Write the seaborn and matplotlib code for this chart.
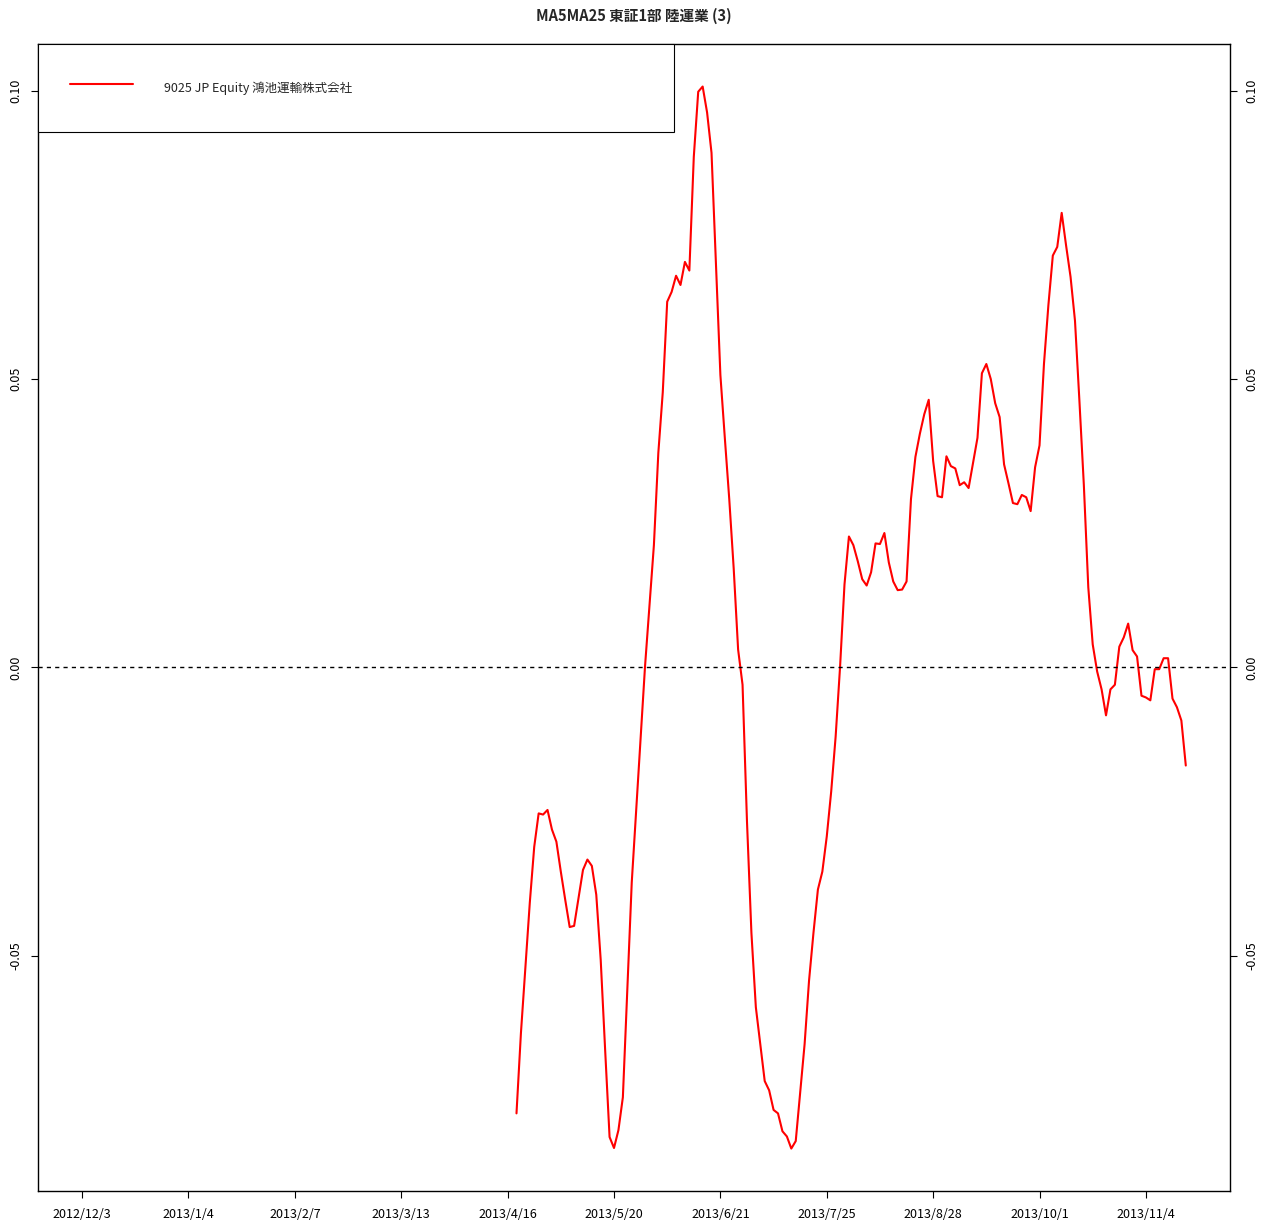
import numpy as np
import pandas as pd
import seaborn as sns
import matplotlib.pyplot as plt

# dados (MA5/MA25 - 1, por dia util)
titulo = "MA5MA25 東証1部 陸運業 (3)"
legenda = "9025 JP Equity 鴻池運輸株式会社"
n_dias = 250        # dias uteis a partir de 2012/12/3
inicio = 99         # primeiro dia com valor
passo_ticks = 24
rotulos_x = ["2012/12/3", "2013/1/4", "2013/2/7", "2013/3/13", "2013/4/16",
             "2013/5/20", "2013/6/21", "2013/7/25", "2013/8/28", "2013/10/1",
             "2013/11/4"]
ticks_y = [-0.05, 0.00, 0.05, 0.10]

valores = [
    -0.0773, -0.0634, -0.0521, -0.0408, -0.0311, -0.0253, -0.0255, -0.0247,
    -0.0281, -0.0302, -0.0354, -0.0403, -0.0450, -0.0448, -0.0399, -0.0351,
    -0.0333, -0.0344, -0.0394, -0.0507, -0.0663, -0.0814, -0.0833, -0.0802,
    -0.0745, -0.0559, -0.0373, -0.0247, -0.0118, 0.0002,
    0.0106, 0.0212, 0.0372, 0.0477, 0.0634, 0.0651, 0.0679, 0.0663,
    0.0703, 0.0688, 0.0885, 0.0998, 0.1007, 0.0962, 0.0892, 0.0700,
    0.0507, 0.0398, 0.0292, 0.0172, 0.0031,
    -0.0030, -0.0267, -0.0460, -0.0589, -0.0653, -0.0717, -0.0733, -0.0767,
    -0.0773, -0.0804, -0.0813, -0.0834, -0.0821, -0.0736, -0.0653, -0.0543,
    -0.0460, -0.0385, -0.0354, -0.0293, -0.0215, -0.0120, 0.0001,
    0.0144, 0.0227, 0.0212, 0.0184, 0.0153, 0.0142, 0.0165, 0.0215,
    0.0214, 0.0233, 0.0182, 0.0149, 0.0134, 0.0135, 0.0149, 0.0292,
    0.0365, 0.0405, 0.0439, 0.0464, 0.0358, 0.0297, 0.0295, 0.0366,
    0.0349, 0.0345, 0.0316, 0.0321, 0.0311, 0.0354, 0.0398, 0.0510,
    0.0526, 0.0500, 0.0458, 0.0434, 0.0352, 0.0319, 0.0285, 0.0283,
    0.0299, 0.0295, 0.0271,
    0.0347, 0.0385, 0.0526, 0.0628, 0.0714, 0.0729, 0.0788, 0.0731,
    0.0677, 0.0601, 0.0462, 0.0316, 0.0139, 0.0040, -0.0007, -0.0038,
    -0.0083, -0.0038, -0.0030, 0.0036, 0.0052, 0.0076, 0.0030, 0.0019,
    -0.0049, -0.0052, -0.0057, -0.0003, -0.0003, 0.0016, 0.0016, -0.0054,
    -0.0069, -0.0092, -0.0170,
]

df = pd.DataFrame({"dia": np.arange(inicio, inicio + len(valores)),
                   "valor": valores})

sns.set_style("white")
plt.rcParams["font.family"] = ["Noto Sans CJK JP", "DejaVu Sans"]
plt.rcParams["axes.unicode_minus"] = False

fig = plt.figure(figsize=(12.78, 12.27), dpi=100)
ax = fig.add_axes([0.0297, 0.0293, 0.9327, 0.9348])

sns.lineplot(data=df, x="dia", y="valor", color="red", linewidth=1.5,
             label=legenda, ax=ax)
ax.axhline(0, color="black", linewidth=1, linestyle=(0, (3, 3)))

# limites no estilo do R (4% de margem)
margem_x = (n_dias - 1) * 0.04
ax.set_xlim(1 - margem_x, n_dias + margem_x)
amp = df["valor"].max() - df["valor"].min()
ax.set_ylim(df["valor"].min() - 0.04 * amp, df["valor"].max() + 0.04 * amp)

ax.set_xticks(np.arange(1, n_dias + 1, passo_ticks)[:len(rotulos_x)])
ax.set_xticklabels(rotulos_x)
ax.set_yticks(ticks_y)
ax.set_yticklabels([f"{v:.2f}" for v in ticks_y])
ax.set_xlabel("")
ax.set_ylabel("")

ax.tick_params(axis="both", direction="out", length=5, width=0.8,
               color="black", labelsize=9, labelcolor="black")
ax.tick_params(axis="x", bottom=True, pad=7)
ax.tick_params(axis="y", left=True, right=True, labelright=True,
               labelrotation=90, pad=6)
for t in ax.yaxis.get_major_ticks():
    t.label1.set_va("center")
    t.label2.set_va("center")

for s in ax.spines.values():
    s.set_color("black")
    s.set_linewidth(1)

ax.set_title(titulo, fontsize=10.5, fontweight="bold", pad=17)

ax.legend(loc="upper left", bbox_to_anchor=(0, 1, 0.5336, 0), mode="expand",
          borderaxespad=0, fancybox=False, edgecolor="black", framealpha=1,
          fontsize=9, borderpad=2.6, handlelength=5, handleheight=2.45,
          handletextpad=2.5)
ax.get_legend().get_frame().set_linewidth(0.8)

plt.savefig("out.png", dpi=100)
